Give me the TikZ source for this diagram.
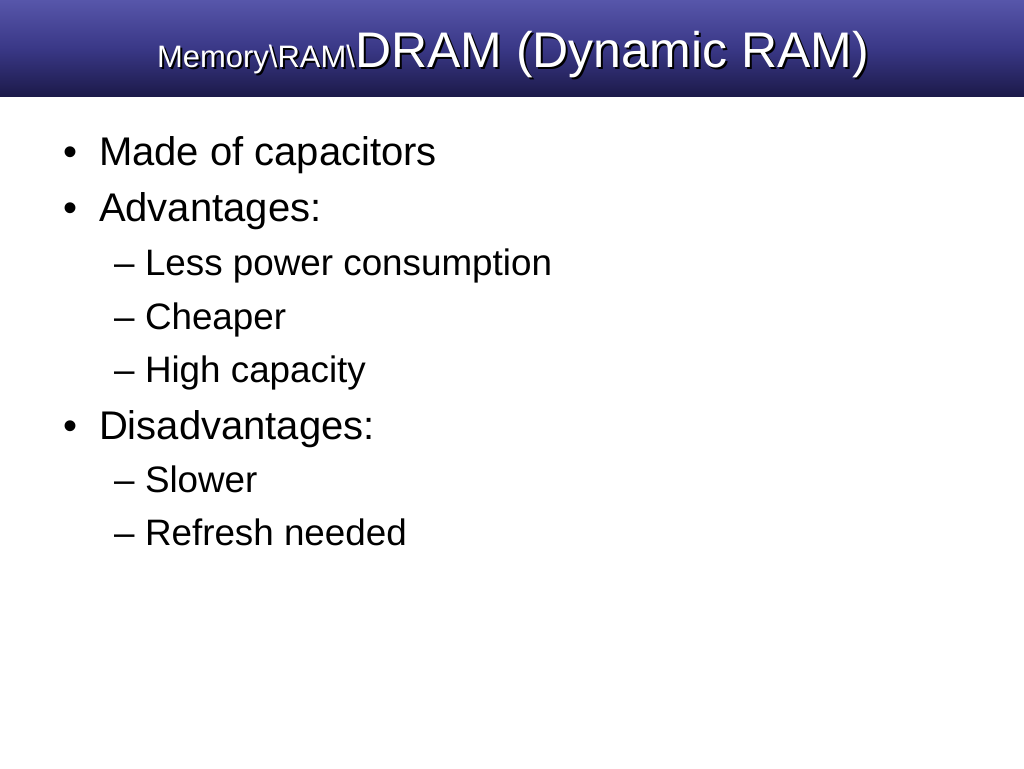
\documentclass[tikz,border=0pt]{standalone}
\usepackage{fontspec}
\setmainfont{Liberation Sans}
\definecolor{bartop}{RGB}{87,86,170}
\definecolor{barmid}{RGB}{58,56,135}
\definecolor{barbot}{RGB}{28,26,74}
\begin{document}
\begin{tikzpicture}[x=1pt,y=-1pt,
  txt/.style={anchor=base west,inner sep=0pt,outer sep=0pt},
  lvlone/.style={txt,font=\fontsize{40}{48}\selectfont},
  lvltwo/.style={txt,font=\fontsize{36.8}{44}\selectfont}]
\useasboundingbox (0,0) rectangle (1024,768);
\fill[white] (0,0) rectangle (1024,768);
\shade[top color=bartop,bottom color=barbot,middle color=barmid] (0,0) rectangle (1024,96);
\newcommand{\ttltext}{{\fontsize{31}{31}\selectfont Memory\textbackslash RAM\textbackslash}{\fontsize{50}{50}\selectfont DRAM (Dynamic RAM)}}
\node[txt,text=black] (tshadow) at (159,69) {\ttltext};
\node[txt,text=white] (title) at (157,67) {\ttltext};
% level one
\node[lvlone] (b1) at (63,165) {•};
\node[lvlone] (t1) at (99,165) {Made of capacitors};
\node[lvlone] (b2) at (63,221) {•};
\node[lvlone] (t2) at (99,221) {Advantages:};
\node[lvltwo] (d1) at (114,275) {–};
\node[lvltwo] (s1) at (145,275) {Less power consumption};
\node[lvltwo] (d2) at (114,329) {–};
\node[lvltwo] (s2) at (145,329) {Cheaper};
\node[lvltwo] (d3) at (114,382) {–};
\node[lvltwo] (s3) at (145,382) {High capacity};
\node[lvlone] (b3) at (63,439) {•};
\node[lvlone] (t3) at (99,439) {Disadvantages:};
\node[lvltwo] (d4) at (114,492) {–};
\node[lvltwo] (s4) at (145,492) {Slower};
\node[lvltwo] (d5) at (114,545) {–};
\node[lvltwo] (s5) at (145,545) {Refresh needed};
\end{tikzpicture}
\end{document}
